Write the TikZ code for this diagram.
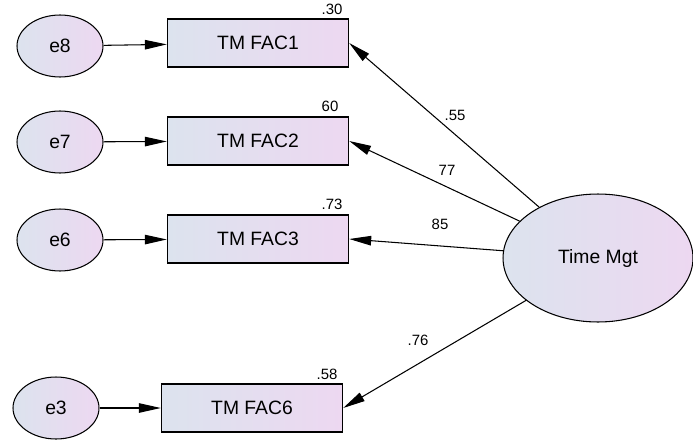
\documentclass[tikz,border=0pt]{standalone}
\usepackage{fontspec}
\setmainfont{Liberation Sans}
\usetikzlibrary{arrows.meta,shapes.geometric}
\definecolor{shadeL}{RGB}{220,227,238}
\definecolor{shadeR}{RGB}{237,216,241}
\begin{document}
\begin{tikzpicture}[
    x=0.02cm, y=-0.02cm,
    % Estilos de las variables (observadas, errores, latente)
    obs/.style={draw=black, thick, left color=shadeL, right color=shadeR, font=\fontsize{11}{13}\selectfont, minimum width=3.62cm, minimum height=0.96cm, inner sep=0pt},
    err/.style={ellipse, draw=black, semithick, left color=shadeL, right color=shadeR, font=\fontsize{11}{13}\selectfont, minimum width=1.72cm, minimum height=1.24cm, inner sep=0pt},
    latent/.style={ellipse, draw=black, semithick, left color=shadeL, right color=shadeR, font=\fontsize{11}{13}\selectfont, minimum width=3.8cm, minimum height=2.56cm, inner sep=0pt},
    rsq/.style={font=\fontsize{8.5}{10}\selectfont, inner sep=0pt},
    path/.style={semithick, -{Triangle[length=0.44cm, width=0.19cm]}}
]
\useasboundingbox (0,0) rectangle (693,443);

% ---------------------------------------------------------
% 1. VARIABLES (Nodos)
% ---------------------------------------------------------
% Factor latente
\node[latent] (tm) at (598, 258) {Time Mgt};

% --- Indicadores ---
\node[obs] (fac1) at (258, 43) {TM FAC1};
\node[rsq] at (332, 9) {.30};

\node[obs] (fac2) at (258, 141) {TM FAC2};
\node[rsq] at (330, 106) {60};

\node[obs] (fac3) at (258, 239) {TM FAC3};
\node[rsq] at (332, 204) {.73};

\node[obs] (fac6) at (252, 408) {TM FAC6};
\node[rsq] at (327, 374) {.58};

% --- Errores ---
\node[err] (e8) at (60, 46) {e8};
\node[err] (e7) at (60, 142) {e7};
\node[err] (e6) at (60, 240) {e6};
\node[err] (e3) at (56, 408) {e3};

% ---------------------------------------------------------
% 2. FLECHAS (Cargas y errores)
% ---------------------------------------------------------
\draw[path] (e8) -- (fac1);
\draw[path] (e7) -- (fac2);
\draw[path] (e6) -- (fac3);
\draw[path] (e3) -- (fac6);

\draw[path] (tm) -- (fac1.east);
\draw[path] (tm) -- (fac2.east);
\draw[path] (tm) -- (fac3.east);
\draw[path] (tm) -- (fac6.east);

% Coeficientes estandarizados
\node[rsq] (l1) at (455, 115) {.55};
\node[rsq] (l2) at (447, 170) {77};
\node[rsq] (l3) at (440, 224) {85};
\node[rsq] (l6) at (418, 340) {.76};

\end{tikzpicture}
\end{document}
